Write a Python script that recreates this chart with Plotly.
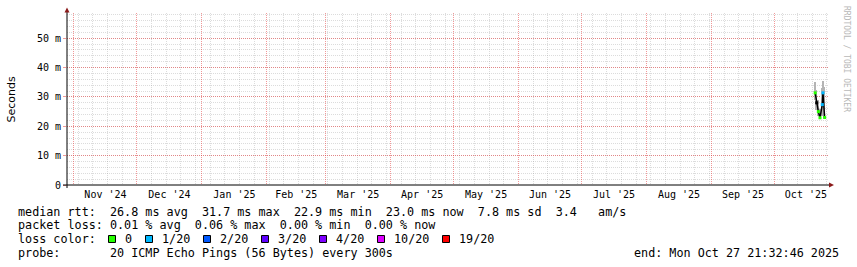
import plotly.graph_objects as go

# ---------------- data ----------------
times = ["2025-10-20 10:00", "2025-10-21 03:00", "2025-10-21 22:00", "2025-10-22 17:00",
         "2025-10-23 19:00", "2025-10-24 03:00", "2025-10-24 22:00"]
median_ms = [31.4, 28.0, 25.0, 22.9, 27.4, 31.4, 23.0]
loss_col = ["#26ff00", "#000000", "#26ff00", "#26ff00", "#00b8ff", "#00b8ff", "#26ff00"]
smoke_hi = [35.1, 32.5, 29.0, 26.0, 33.0, 35.3, 33.5]
smoke_lo = [29.0, 25.5, 23.5, 22.6, 23.5, 27.0, 22.8]

ytick_vals = [0, 10, 20, 30, 40, 50]
ytick_text = ["0", "10 m", "20 m", "30 m", "40 m", "50 m"]

legend_lines = [
    "median rtt:  26.8 ms avg  31.7 ms max  22.9 ms min  23.0 ms now  7.8 ms sd  3.4   am/s",
    "packet loss: 0.01 % avg  0.06 % max  0.00 % min  0.00 % now",
    "loss color:",
    "probe:       20 ICMP Echo Pings (56 Bytes) every 300s",
]
loss_labels = ["0", "1/20", "2/20", "3/20", "4/20", "10/20", "19/20"]
loss_colors = ["#26ff00", "#00b8ff", "#0059ff", "#5e00ff", "#7e00ff", "#dd00ff", "#ff0000"]
end_text = "end: Mon Oct 27 21:32:46 2025"
watermark = "RRDTOOL / TOBI OETIKER"

# ---------------- layout geometry ----------------
W, H = 857, 267
L, R, T, B = 67, 829, 13, 185


def px(x):
    return (x - L) / (R - L)


def py(y):
    return (B - y) / (B - T)


def nb(s):
    return s.replace(" ", "\u00a0")


MONO = "DejaVu Sans Mono"
FS = 11.75

fig = go.Figure()

# smoke
fig.add_trace(go.Bar(
    x=times, y=[h - l for h, l in zip(smoke_hi, smoke_lo)], base=smoke_lo,
    width=0.75 * 86400000, marker=dict(color="#b4b4b4", line=dict(width=0)),
    showlegend=False, hoverinfo="skip"))
# median
fig.add_trace(go.Scatter(
    x=times, y=median_ms, mode="lines+markers",
    line=dict(color="#000000", width=1.5),
    marker=dict(color=loss_col, size=3, symbol="square", line=dict(width=0)),
    showlegend=False))

grid_dash = "1px,1px"
MAJ = "rgba(230,50,50,0.5)"
MIN = "rgba(140,140,140,0.3)"
fig.update_xaxes(
    type="date", range=["2024-10-28 16:00", "2025-10-27 00:00"],
    dtick="M1", tick0="2024-11-01", tickformat="%b '%y", ticklabelmode="period",
    showgrid=True, gridcolor=MAJ, griddash=grid_dash, gridwidth=1,
    ticks="", showline=False, zeroline=False, ticklabelstandoff=2,
    tickfont=dict(family=MONO, size=10, color="#000"),
    minor=dict(dtick=7 * 86400000, tick0="2024-11-03", showgrid=True,
               gridcolor=MIN, griddash=grid_dash, ticks=""),
)
fig.update_yaxes(
    range=[0, 58.6], tickvals=ytick_vals, ticktext=ytick_text,
    showgrid=True, gridcolor=MAJ, griddash=grid_dash,
    ticks="outside", ticklen=3, tickcolor=MAJ, showline=False, zeroline=False,
    tickfont=dict(family=MONO, size=10, color="#000"),
    minor=dict(dtick=2, showgrid=True, gridcolor=MIN, griddash=grid_dash),
)

shapes = []
# axes lines
shapes.append(dict(type="line", xref="paper", yref="paper", x0=px(63), x1=px(829), y0=0, y1=0,
                   line=dict(color="#000", width=1)))
shapes.append(dict(type="line", xref="paper", yref="paper", x0=0, x1=0, y0=py(188), y1=py(11),
                   line=dict(color="#000", width=1)))
# arrows
shapes.append(dict(type="path", xref="paper", yref="paper",
                   path=f"M {px(64.5)} {py(12.5)} L {px(69.5)} {py(12.5)} L {px(67)} {py(7.5)} Z",
                   fillcolor="#8b1a1a", line=dict(width=0)))
shapes.append(dict(type="path", xref="paper", yref="paper",
                   path=f"M {px(829)} {py(182.5)} L {px(829)} {py(187.5)} L {px(834)} {py(185)} Z",
                   fillcolor="#8b1a1a", line=dict(width=0)))

annotations = []
line_y = [211.7, 225.2, 239.2, 252.7]
for txt, yy in zip(legend_lines, line_y):
    annotations.append(dict(text=nb(txt), x=px(16), y=py(yy), xref="paper", yref="paper",
                            xanchor="left", yanchor="middle", showarrow=False,
                            font=dict(family=MONO, size=FS, color="#000")))

sw_x = [108.5, 145.5, 203.5, 261.5, 319.5, 377.5, 442.5]
lab_x = [123, 160.3, 218.3, 276, 334.3, 392.3, 457]
for c, lab, sx, lx in zip(loss_colors, loss_labels, sw_x, lab_x):
    shapes.append(dict(type="rect", xref="paper", yref="paper",
                       x0=px(sx), x1=px(sx + 7), y0=py(235.5), y1=py(242.5),
                       fillcolor=c, line=dict(color="#000", width=1)))
    annotations.append(dict(text=lab, x=px(lx), y=py(239.2), xref="paper", yref="paper",
                            xanchor="left", yanchor="middle", showarrow=False,
                            font=dict(family=MONO, size=FS, color="#000")))

annotations.append(dict(text=nb(end_text), x=px(841), y=py(252.7), xref="paper", yref="paper",
                        xanchor="right", yanchor="middle", showarrow=False,
                        font=dict(family=MONO, size=FS, color="#000")))
annotations.append(dict(text="Seconds", x=px(11), y=py(99.5), xref="paper", yref="paper",
                        xanchor="center", yanchor="middle", textangle=-90, showarrow=False,
                        font=dict(family="DejaVu Sans", size=11, color="#000")))
annotations.append(dict(text=nb(watermark), x=px(847), y=py(59), xref="paper", yref="paper",
                        xanchor="center", yanchor="middle", textangle=90, showarrow=False,
                        font=dict(family=MONO, size=8, color="#b8b8b8")))

fig.update_layout(
    width=W, height=H, margin=dict(l=L, r=W - R, t=T, b=H - B, pad=0),
    paper_bgcolor="#ffffff", plot_bgcolor="#ffffff",
    shapes=shapes, annotations=annotations, showlegend=False, bargap=0,
)

fig.write_html("out.html")
